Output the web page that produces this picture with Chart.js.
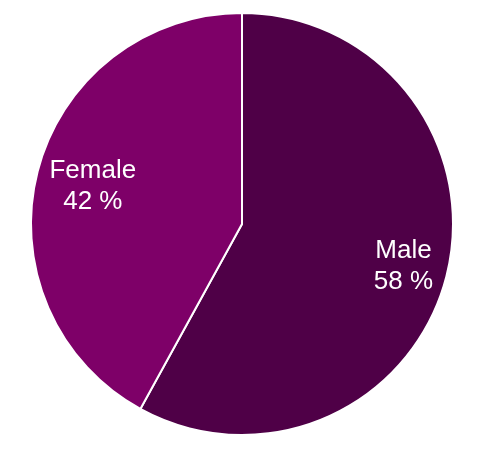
<!DOCTYPE html>
<html lang="en">
<head>
    <meta charset="UTF-8">
    <title>Gender split</title>
    <script src="https://cdn.jsdelivr.net/npm/chart.js"></script>
    <style>
        body {
            margin: 0;
            padding: 0;
            background: #ffffff;
        }
        .container {
            width: 487px;
            height: 450px;
        }
    </style>
</head>
<body>
    <div class="container">
        <canvas id="myChart" width="487" height="450"></canvas>
    </div>

    <script>
        const categories = ['Male', 'Female'];
        const shares = [58, 42];
        const sliceColors = ['#4f0047', '#7e0068'];

        // labels drawn inside each slice: name on first line, percent below
        const sliceLabels = {
            id: 'sliceLabels',
            afterDatasetsDraw(chart, args, opts) {
                const ctx = chart.ctx;
                const meta = chart.getDatasetMeta(0);
                ctx.save();
                ctx.fillStyle = '#ffffff';
                ctx.font = '26px "Liberation Sans", Arial, sans-serif';
                ctx.textAlign = 'center';
                ctx.textBaseline = 'middle';
                meta.data.forEach((arc, i) => {
                    const mid = (arc.startAngle + arc.endAngle) / 2;
                    const r = arc.outerRadius * opts.radius[i];
                    const x = arc.x + Math.cos(mid) * r;
                    const y = arc.y + Math.sin(mid) * r;
                    ctx.fillText(categories[i], x, y - 15);
                    ctx.fillText(shares[i] + ' %', x, y + 16);
                });
                ctx.restore();
            }
        };

        const ctx = document.getElementById('myChart').getContext('2d');
        new Chart(ctx, {
            type: 'pie',
            data: {
                labels: categories,
                datasets: [{
                    data: shares,
                    backgroundColor: sliceColors,
                    borderColor: '#ffffff',
                    borderWidth: 2
                }]
            },
            options: {
                responsive: false,
                animation: false,
                layout: {
                    padding: { top: 12, bottom: 14, left: 30, right: 33 }
                },
                plugins: {
                    legend: { display: false },
                    tooltip: { enabled: false },
                    sliceLabels: { radius: [0.79, 0.73] }
                }
            },
            plugins: [sliceLabels]
        });
    </script>
</body>
</html>
